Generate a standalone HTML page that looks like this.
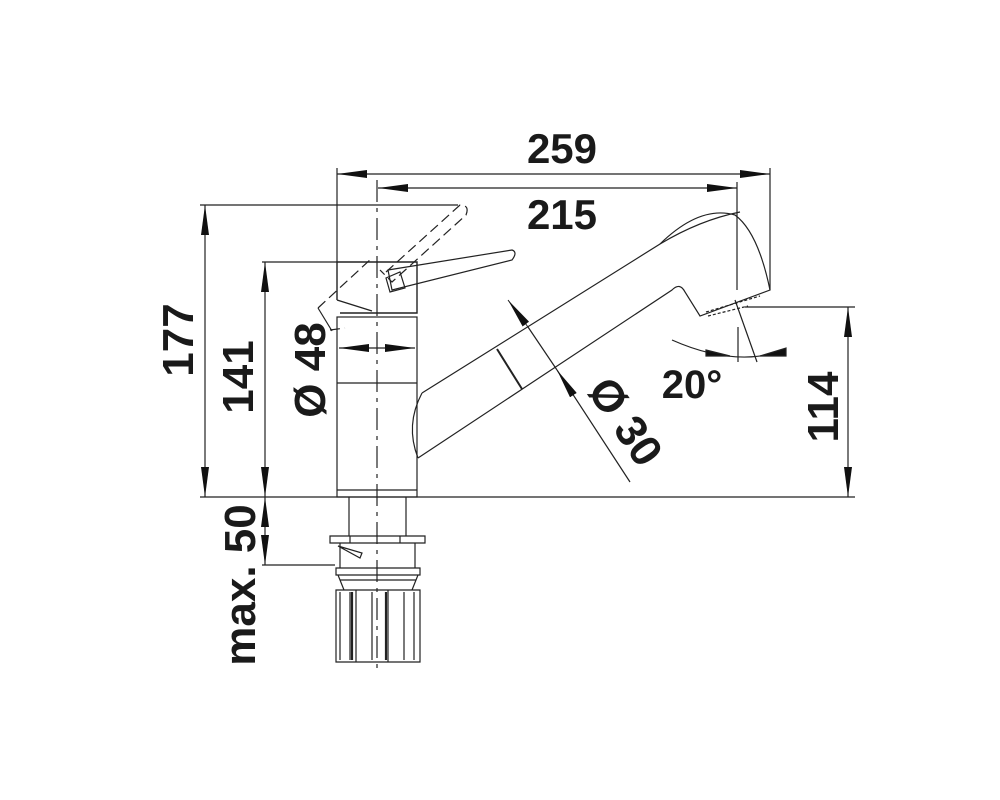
<!DOCTYPE html>
<html><head><meta charset="utf-8"><style>
html,body{margin:0;padding:0;background:#fff;}
svg{display:block;}
text{font-family:"Liberation Sans",Arial,sans-serif;font-weight:bold;fill:#1a1a1a;}
</style></head><body>
<svg width="1000" height="800" viewBox="0 0 1000 800" xmlns="http://www.w3.org/2000/svg">
<defs>
<marker id="b" viewBox="0 0 30 8" refX="30" refY="4" markerWidth="30" markerHeight="8" markerUnits="userSpaceOnUse" orient="auto-start-reverse"><path d="M0,0 L30,4 L0,8z" fill="#111"/></marker>
</defs>
<g stroke="#222" stroke-width="1.2" fill="none">
<line x1="337" y1="168" x2="337" y2="262"/>
<line x1="770" y1="168" x2="770" y2="290"/>
<line x1="737" y1="182" x2="737" y2="290"/>
<line x1="200" y1="205" x2="458" y2="205"/>
<line x1="262" y1="262" x2="337" y2="262"/>
<line x1="200" y1="497" x2="855" y2="497"/>
<line x1="745" y1="307" x2="855" y2="307"/>
<line x1="262" y1="565" x2="335" y2="565"/>
<line x1="337" y1="174" x2="770" y2="174" marker-start="url(#b)" marker-end="url(#b)"/>
<line x1="378" y1="188" x2="737" y2="188" marker-start="url(#b)" marker-end="url(#b)"/>
<line x1="205" y1="205" x2="205" y2="497" marker-start="url(#b)" marker-end="url(#b)"/>
<line x1="265" y1="262" x2="265" y2="497" marker-start="url(#b)" marker-end="url(#b)"/>
<line x1="848" y1="307" x2="848" y2="497" marker-start="url(#b)" marker-end="url(#b)"/>
<line x1="265" y1="497" x2="265" y2="531" marker-start="url(#b)"/>
<line x1="265" y1="531" x2="265" y2="565" marker-end="url(#b)"/>
<line x1="339" y1="348" x2="377" y2="348" marker-start="url(#b)"/>
<line x1="377" y1="348" x2="415" y2="348" marker-end="url(#b)"/>
<line x1="508" y1="300" x2="528" y2="327" marker-start="url(#b)" stroke-width="1"/>
<line x1="528" y1="327" x2="557" y2="370"/>
<line x1="557" y1="370" x2="630" y2="482" marker-start="url(#b)"/>
<line x1="377" y1="180" x2="377" y2="670" stroke-dasharray="22,6,4,6"/>
</g>
<!-- lever block -->
<path d="M337,300 L337,262 L417,262 L417,313 L340,313 M337,300 L372,311" stroke="#222" stroke-width="1.4" fill="none"/>
<g stroke="#222" stroke-width="1.2" fill="none">
<rect x="337" y="317" width="80" height="180"/>
<line x1="337" y1="383" x2="417" y2="383"/>
<line x1="337" y1="490" x2="417" y2="490"/>
<path d="M388,270 L512,250 Q518,252 512,260 L392,290 Z"/>
<path d="M386,278 L400,272 L405,288 L390,292 Z"/>
<path d="M318,308 L372,258 M386,272 L460,205 Q470,205 466,215 L392,282 L380,270 M330,330 L345,328" stroke-dasharray="10,5"/>
<path d="M318,308 L332,331"/>
<path d="M422,393 L660,244 Q700,205 735,215 Q758,232 770,290 L700,316 L685,292 Q680,282 672,290 L418,458"/>
<path d="M422,393 Q405,425 418,458"/>
<path d="M660,244 Q700,220 740,212"/>
<line x1="497" y1="349" x2="522" y2="389" stroke-width="2"/>
<path d="M706,312 L760,296 M708,316 L748,306" stroke-dasharray="3,2"/>
<line x1="738" y1="327" x2="738" y2="362"/>
<line x1="735" y1="300" x2="757" y2="362"/>
<path d="M672,340 Q735,368 786,350"/>
<path d="M706,350 L730,356 L706,356z M786,348 L786,356 L760,356z" fill="#111"/>
<path d="M349,497 V536 M406,497 V536 M330,536 H425 V543 H330 Z M350,536 V543 M400,536 V543"/>
<path d="M340,543 V568 M415,543 V568 M338,546 L362,553 L360,558 Z"/>
<path d="M336,568 H420 V575 H336 Z M338,575 L344,590 M418,575 L412,590 M340,580 H416"/>
<path d="M336,590 H420 V662 H336 Z"/>
<path d="M340,592 V660 M350,592 V660 M356,590 V662 M372,592 V660 M388,590 V662 M404,592 V660 M414,592 V660"/>
<path d="M352,592 V660 M386,592 V660" stroke-width="2.2"/>
</g>
<text x="562" y="163" font-size="42" text-anchor="middle">259</text>
<text x="562" y="229" font-size="42" text-anchor="middle">215</text>
<text x="692" y="398" font-size="40" text-anchor="middle">20°</text>
<text transform="translate(193,340) rotate(-90)" font-size="44" text-anchor="middle">177</text>
<text transform="translate(253,377) rotate(-90)" font-size="44" text-anchor="middle">141</text>
<text transform="translate(325,370) rotate(-90)" font-size="44" text-anchor="middle">Ø 48</text>
<text transform="translate(255,585) rotate(-90)" font-size="44" text-anchor="middle">max. 50</text>
<text transform="translate(838,407) rotate(-90)" font-size="44" text-anchor="middle">114</text>
<text transform="translate(613,430) rotate(56)" font-size="44" text-anchor="middle">Ø 30</text>
</svg>
</body></html>
